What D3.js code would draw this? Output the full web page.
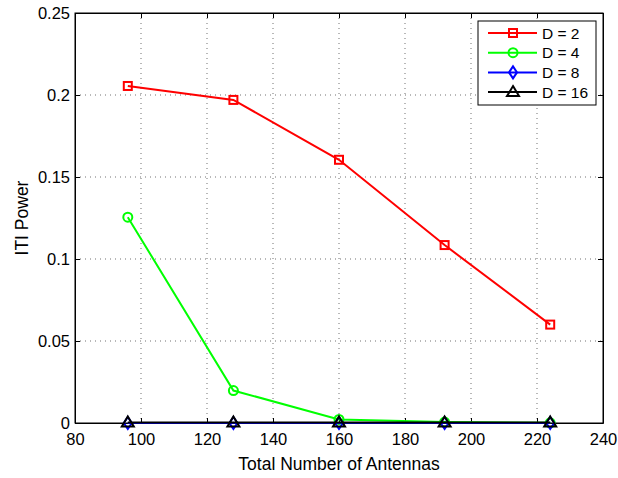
<!DOCTYPE html>
<html><head><meta charset="utf-8">
<script src="https://cdn.jsdelivr.net/npm/d3@7"></script>
<style>body{margin:0;background:#fff}svg{display:block}text{font-family:"Liberation Sans",Arial,sans-serif}</style>
</head><body><svg id="c" width="618" height="478"></svg>
<script>
const antennas = [96, 128, 160, 192, 224];
const seriesNames = ["D = 2", "D = 4", "D = 8", "D = 16"];
const d2 = [0.2055, 0.197, 0.1605, 0.1085, 0.060];
const d4 = [0.1255, 0.0198, 0.0022, 0.0006, 0.0001];
const d8 = [0, 0, 0, 0, 0];
const d16 = [0.0003, 0.0003, 0.0003, 0.0003, 0.0003];
const xTicks = [80, 100, 120, 140, 160, 180, 200, 220, 240];
const yTicks = [0, 0.05, 0.1, 0.15, 0.2, 0.25];
const colors = ["#ff0000", "#00ff00", "#0000ff", "#000000"];
const markers = ["square", "circle", "diamond", "triangle"];
const allSeries = [d2, d4, d8, d16];

const svg = d3.select("#c");
const L = 75, R = 603, T = 13, B = 423;
const x = d3.scaleLinear().domain([80, 240]).range([L, R]);
const y = d3.scaleLinear().domain([0, 0.25]).range([B, T]);

// grid
const g = svg.append("g");
xTicks.slice(1, -1).forEach(t => g.append("line").attr("x1", x(t)).attr("x2", x(t)).attr("y1", T).attr("y2", B)
  .attr("stroke", "#333").attr("stroke-width", 0.7).attr("stroke-dasharray", "1,4"));
yTicks.slice(1, -1).forEach(t => g.append("line").attr("x1", L).attr("x2", R).attr("y1", y(t)).attr("y2", y(t))
  .attr("stroke", "#333").attr("stroke-width", 0.7).attr("stroke-dasharray", "1,4"));

// axes
const xAx = svg.append("g").attr("transform", `translate(0,${B})`)
  .call(d3.axisBottom(x).tickValues(xTicks).tickFormat(d3.format("d")).tickSizeInner(-5).tickSizeOuter(0).tickPadding(10));
const xAxTop = svg.append("g").attr("transform", `translate(0,${T})`)
  .call(d3.axisTop(x).tickValues(xTicks).tickFormat("").tickSizeInner(-5).tickSizeOuter(0));
const yAx = svg.append("g").attr("transform", `translate(${L},0)`)
  .call(d3.axisLeft(y).tickValues(yTicks).tickFormat(d => d === 0 ? "0" : String(d)).tickSizeInner(-5).tickSizeOuter(0).tickPadding(5));
const yAxR = svg.append("g").attr("transform", `translate(${R},0)`)
  .call(d3.axisRight(y).tickValues(yTicks).tickFormat("").tickSizeInner(-5).tickSizeOuter(0));
[xAx, xAxTop, yAx, yAxR].forEach(a => {
  a.selectAll("path").attr("stroke", "#000");
  a.selectAll("line").attr("stroke", "#000");
  a.selectAll("text").attr("font-size", 16.5).attr("fill", "#000").style("font-family", "Liberation Sans, Arial, sans-serif");
});
svg.append("rect").attr("x", L).attr("y", T).attr("width", R - L).attr("height", B - T)
  .attr("fill", "none").attr("stroke", "#000").attr("stroke-width", 1);

// labels
svg.append("text").attr("x", (L + R) / 2).attr("y", 470).attr("text-anchor", "middle").attr("font-size", 17.5).text("Total Number of Antennas");
svg.append("text").attr("transform", `translate(28,${(T + B) / 2}) rotate(-90)`).attr("text-anchor", "middle").attr("font-size", 17.5).text("ITI Power");

function drawMarker(sel, type, cx, cy, col) {
  if (type === "square") sel.append("rect").attr("x", cx - 4).attr("y", cy - 4).attr("width", 8).attr("height", 8).attr("fill", "none").attr("stroke", col).attr("stroke-width", 2);
  else if (type === "circle") sel.append("circle").attr("cx", cx).attr("cy", cy).attr("r", 4.5).attr("fill", "none").attr("stroke", col).attr("stroke-width", 2);
  else if (type === "diamond") sel.append("path").attr("d", `M${cx},${cy - 6}L${cx + 4},${cy}L${cx},${cy + 6}L${cx - 4},${cy}Z`).attr("fill", "none").attr("stroke", col).attr("stroke-width", 2);
  else sel.append("path").attr("d", `M${cx},${cy - 6}L${cx + 6},${cy + 4}L${cx - 6},${cy + 4}Z`).attr("fill", "none").attr("stroke", col).attr("stroke-width", 2);
}

const line = d3.line().x((d, i) => x(antennas[i])).y(d => y(d));
allSeries.forEach((s, k) => {
  const gg = svg.append("g");
  gg.append("path").attr("d", line(s)).attr("fill", "none").attr("stroke", colors[k]).attr("stroke-width", 2);
  s.forEach((v, i) => drawMarker(gg, markers[k], x(antennas[i]), y(v), colors[k]));
});

// legend
const lg = svg.append("g");
lg.append("rect").attr("x", 478).attr("y", 21).attr("width", 118).attr("height", 84).attr("fill", "#fff").attr("stroke", "#000").attr("stroke-width", 1);
seriesNames.forEach((n, k) => {
  const yy = 33 + k * 19.7;
  lg.append("line").attr("x1", 488).attr("x2", 537).attr("y1", yy).attr("y2", yy).attr("stroke", colors[k]).attr("stroke-width", 2);
  drawMarker(lg, markers[k], 513, yy, colors[k]);
  lg.append("text").attr("x", 542).attr("y", yy + 5.5).attr("font-size", 15.5).text(n);
});
</script></body></html>
